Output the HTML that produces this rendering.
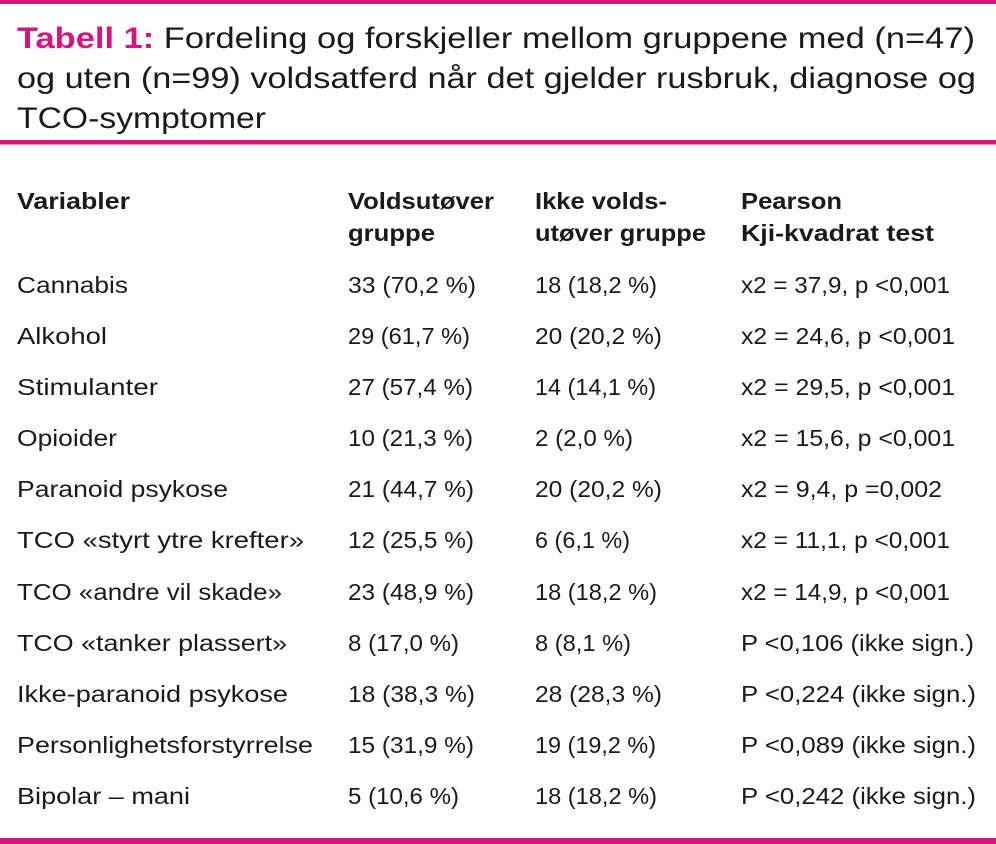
<!DOCTYPE html>
<html><head><meta charset="utf-8"><style>
html,body{margin:0;padding:0;background:#fff;width:996px;height:844px;overflow:hidden}
svg{display:block}
text{font-family:"Liberation Sans",sans-serif;fill:#1a1a1a}
.t{font-size:30px}
.c{font-size:23px}
.h{font-size:23px;font-weight:bold}
</style></head><body>
<svg width="996" height="844" viewBox="0 0 996 844">
<rect x="0" y="0" width="996" height="4" fill="#d4157f"/>
<rect x="0" y="140" width="996" height="4.5" fill="#d4157f"/>
<rect x="0" y="838" width="996" height="6" fill="#d4157f"/>
<text class="t" x="17" y="48" textLength="958" lengthAdjust="spacingAndGlyphs"><tspan font-weight="bold" fill="#d4157f" style="fill:#d4157f">Tabell 1:</tspan> Fordeling og forskjeller mellom gruppene med (n=47)</text>
<text class="t" x="17" y="88" textLength="959" lengthAdjust="spacingAndGlyphs">og uten (n=99) voldsatferd når det gjelder rusbruk, diagnose og</text>
<text class="t" x="17" y="128" textLength="249" lengthAdjust="spacingAndGlyphs">TCO-symptomer</text>

<text class="h" x="17" y="209" textLength="113" lengthAdjust="spacingAndGlyphs">Variabler</text>
<text class="h" x="348" y="209" textLength="146" lengthAdjust="spacingAndGlyphs">Voldsutøver</text>
<text class="h" x="348" y="241" textLength="87" lengthAdjust="spacingAndGlyphs">gruppe</text>
<text class="h" x="535" y="209" textLength="132" lengthAdjust="spacingAndGlyphs">Ikke volds-</text>
<text class="h" x="535" y="241" textLength="171" lengthAdjust="spacingAndGlyphs">utøver gruppe</text>
<text class="h" x="741" y="209" textLength="101" lengthAdjust="spacingAndGlyphs">Pearson</text>
<text class="h" x="741" y="241" textLength="193" lengthAdjust="spacingAndGlyphs">Kji-kvadrat test</text>

<g class="c">
<text class="c" x="17" y="293" textLength="111" lengthAdjust="spacingAndGlyphs">Cannabis</text>
<text class="c" x="348" y="293" textLength="128" lengthAdjust="spacingAndGlyphs">33 (70,2 %)</text>
<text class="c" x="535" y="293" textLength="122" lengthAdjust="spacingAndGlyphs">18 (18,2 %)</text>
<text class="c" x="741" y="293" textLength="209" lengthAdjust="spacingAndGlyphs">x2 = 37,9, p &lt;0,001</text>

<text class="c" x="17" y="344" textLength="90" lengthAdjust="spacingAndGlyphs">Alkohol</text>
<text class="c" x="348" y="344" textLength="122" lengthAdjust="spacingAndGlyphs">29 (61,7 %)</text>
<text class="c" x="535" y="344" textLength="127" lengthAdjust="spacingAndGlyphs">20 (20,2 %)</text>
<text class="c" x="741" y="344" textLength="214" lengthAdjust="spacingAndGlyphs">x2 = 24,6, p &lt;0,001</text>

<text class="c" x="17" y="395" textLength="141" lengthAdjust="spacingAndGlyphs">Stimulanter</text>
<text class="c" x="348" y="395" textLength="125" lengthAdjust="spacingAndGlyphs">27 (57,4 %)</text>
<text class="c" x="535" y="395" textLength="121" lengthAdjust="spacingAndGlyphs">14 (14,1 %)</text>
<text class="c" x="741" y="395" textLength="214" lengthAdjust="spacingAndGlyphs">x2 = 29,5, p &lt;0,001</text>

<text class="c" x="17" y="446" textLength="100" lengthAdjust="spacingAndGlyphs">Opioider</text>
<text class="c" x="348" y="446" textLength="125" lengthAdjust="spacingAndGlyphs">10 (21,3 %)</text>
<text class="c" x="535" y="446" textLength="98" lengthAdjust="spacingAndGlyphs">2 (2,0 %)</text>
<text class="c" x="741" y="446" textLength="214" lengthAdjust="spacingAndGlyphs">x2 = 15,6, p &lt;0,001</text>

<text class="c" x="17" y="497" textLength="211" lengthAdjust="spacingAndGlyphs">Paranoid psykose</text>
<text class="c" x="348" y="497" textLength="126" lengthAdjust="spacingAndGlyphs">21 (44,7 %)</text>
<text class="c" x="535" y="497" textLength="127" lengthAdjust="spacingAndGlyphs">20 (20,2 %)</text>
<text class="c" x="741" y="497" textLength="201" lengthAdjust="spacingAndGlyphs">x2 = 9,4, p =0,002</text>

<text class="c" x="17" y="548" textLength="287" lengthAdjust="spacingAndGlyphs">TCO «styrt ytre krefter»</text>
<text class="c" x="348" y="548" textLength="126" lengthAdjust="spacingAndGlyphs">12 (25,5 %)</text>
<text class="c" x="535" y="548" textLength="95" lengthAdjust="spacingAndGlyphs">6 (6,1 %)</text>
<text class="c" x="741" y="548" textLength="209" lengthAdjust="spacingAndGlyphs">x2 = 11,1, p &lt;0,001</text>

<text class="c" x="17" y="600" textLength="265" lengthAdjust="spacingAndGlyphs">TCO «andre vil skade»</text>
<text class="c" x="348" y="600" textLength="126" lengthAdjust="spacingAndGlyphs">23 (48,9 %)</text>
<text class="c" x="535" y="600" textLength="122" lengthAdjust="spacingAndGlyphs">18 (18,2 %)</text>
<text class="c" x="741" y="600" textLength="209" lengthAdjust="spacingAndGlyphs">x2 = 14,9, p &lt;0,001</text>

<text class="c" x="17" y="651" textLength="270" lengthAdjust="spacingAndGlyphs">TCO «tanker plassert»</text>
<text class="c" x="348" y="651" textLength="111" lengthAdjust="spacingAndGlyphs">8 (17,0 %)</text>
<text class="c" x="535" y="651" textLength="96" lengthAdjust="spacingAndGlyphs">8 (8,1 %)</text>
<text class="c" x="741" y="651" textLength="233" lengthAdjust="spacingAndGlyphs">P &lt;0,106 (ikke sign.)</text>

<text class="c" x="17" y="702" textLength="271" lengthAdjust="spacingAndGlyphs">Ikke-paranoid psykose</text>
<text class="c" x="348" y="702" textLength="127" lengthAdjust="spacingAndGlyphs">18 (38,3 %)</text>
<text class="c" x="535" y="702" textLength="127" lengthAdjust="spacingAndGlyphs">28 (28,3 %)</text>
<text class="c" x="741" y="702" textLength="235" lengthAdjust="spacingAndGlyphs">P &lt;0,224 (ikke sign.)</text>

<text class="c" x="17" y="753" textLength="296" lengthAdjust="spacingAndGlyphs">Personlighetsforstyrrelse</text>
<text class="c" x="348" y="753" textLength="126" lengthAdjust="spacingAndGlyphs">15 (31,9 %)</text>
<text class="c" x="535" y="753" textLength="121" lengthAdjust="spacingAndGlyphs">19 (19,2 %)</text>
<text class="c" x="741" y="753" textLength="235" lengthAdjust="spacingAndGlyphs">P &lt;0,089 (ikke sign.)</text>

<text class="c" x="17" y="804" textLength="173" lengthAdjust="spacingAndGlyphs">Bipolar – mani</text>
<text class="c" x="348" y="804" textLength="111" lengthAdjust="spacingAndGlyphs">5 (10,6 %)</text>
<text class="c" x="535" y="804" textLength="122" lengthAdjust="spacingAndGlyphs">18 (18,2 %)</text>
<text class="c" x="741" y="804" textLength="235" lengthAdjust="spacingAndGlyphs">P &lt;0,242 (ikke sign.)</text>
</g>
</svg>
</body></html>
